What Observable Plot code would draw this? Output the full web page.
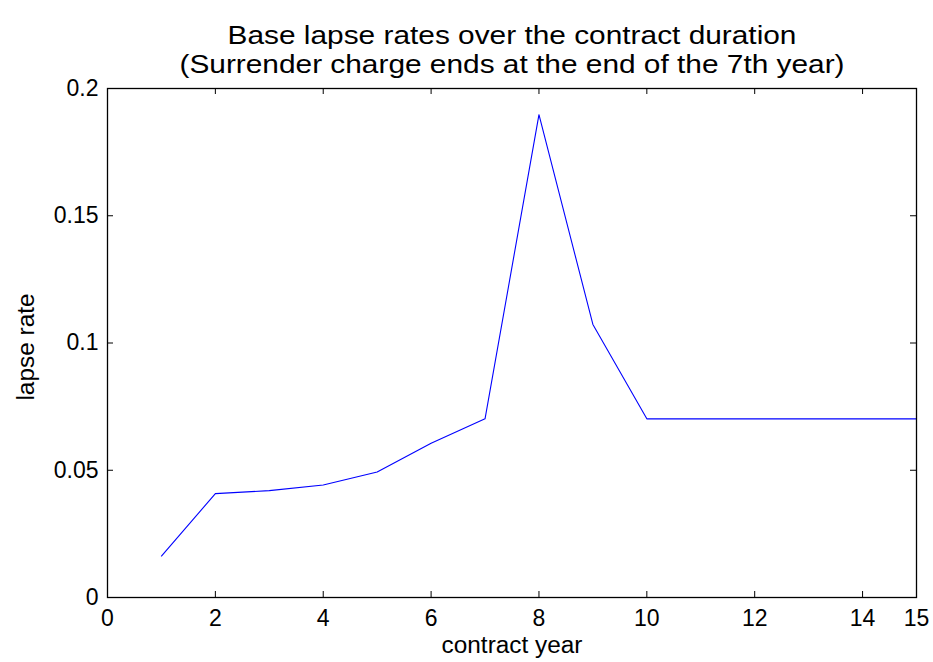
<!DOCTYPE html>
<html>
<head>
<meta charset="utf-8">
<script src="https://cdn.jsdelivr.net/npm/d3@7"></script>
<script src="https://cdn.jsdelivr.net/npm/@observablehq/plot@0.6"></script>
<style>
  html, body { margin: 0; padding: 0; background: #fff; }
  svg { font-family: "Liberation Sans", Arial, sans-serif; }
</style>
</head>
<body>
<div id="chart"></div>
<script>
const years = [1, 2, 3, 4, 5, 6, 7, 8, 9, 10, 11, 12, 13, 14, 15];
const lapseRates = [0.0163, 0.0408, 0.0420, 0.0442, 0.0493, 0.0606, 0.0702, 0.1897, 0.1073, 0.0702, 0.0702, 0.0702, 0.0702, 0.0702, 0.0702];
const xTicks = [0, 2, 4, 6, 8, 10, 12, 14, 15];
const yTicks = [0, 0.05, 0.1, 0.15, 0.2];
const yTickLabels = ["0", "0.05", "0.1", "0.15", "0.2"];
const titleLines = ["Base lapse rates over the contract duration", "(Surrender charge ends at the end of the 7th year)"];
const xLabel = "contract year";
const yLabel = "lapse rate";

const data = years.map((x, i) => ({x, y: lapseRates[i]}));

const W = 933, H = 662;
const mT = 88, mB = 65, mL = 107, mR = 17;
const plotH = H - mT - mB;
const plotW = W - mL - mR;
const tickLen = 6;
const fontSize = 23;
const titleSize = 25.5;
const titleStretch = 1.17;   // reference text is drawn slightly wider than Liberation Sans
const labelStretch = 1.06;

const centered = {lineAnchor: "middle", textAnchor: "middle", fill: "#000"};

const chart = Plot.plot({
  width: W,
  height: H,
  marginTop: mT,
  marginBottom: mB,
  marginLeft: mL,
  marginRight: mR,
  style: {fontFamily: "'Liberation Sans', Arial, sans-serif", fontSize: fontSize + "px", background: "#fff", color: "#000"},
  x: {domain: [0, 15], label: null},
  y: {domain: [0, 0.2], label: null},
  marks: [
    Plot.ruleX(xTicks, {x: d => d, insetTop: plotH - tickLen, stroke: "#000", strokeWidth: 1}),
    Plot.ruleX(xTicks, {x: d => d, insetBottom: plotH - tickLen, stroke: "#000", strokeWidth: 1}),
    Plot.ruleY(yTicks, {y: d => d, insetRight: plotW - tickLen, stroke: "#000", strokeWidth: 1}),
    Plot.ruleY(yTicks, {y: d => d, insetLeft: plotW - tickLen, stroke: "#000", strokeWidth: 1}),
    Plot.axisX(xTicks, {anchor: "bottom", tickSize: 0, tickPadding: 12, fontSize: fontSize, tickFormat: d => String(d)}),
    Plot.axisY(yTicks, {anchor: "left", tickSize: 0, tickPadding: 9, fontSize: fontSize, tickFormat: d => yTickLabels[yTicks.indexOf(d)]}),
    Plot.line(data, {x: "x", y: "y", stroke: "#0000ff", strokeWidth: 1.1}),
    Plot.frame({stroke: "#000", strokeWidth: 1.3}),
    Plot.text([xLabel], {...centered, frameAnchor: "bottom", dy: 48, text: d => d, fontSize: fontSize, className: "xlabel"}),
    Plot.text([yLabel], {...centered, frameAnchor: "left", dx: -81, dy: 4, rotate: -90, text: d => d, fontSize: fontSize, className: "ylabel"}),
    Plot.text([titleLines[0]], {...centered, frameAnchor: "top", dy: -53, text: d => d, fontSize: titleSize, className: "title"}),
    Plot.text([titleLines[1]], {...centered, frameAnchor: "top", dy: -24, text: d => d, fontSize: titleSize, className: "title"})
  ]
});
document.getElementById("chart").appendChild(chart);

// widen the title and axis-label glyphs to the reference's proportions
function stretch(selector, factor) {
  chart.querySelectorAll(selector + " text").forEach(t => {
    const len = t.getComputedTextLength();
    t.setAttribute("textLength", (len * factor).toFixed(1));
    t.setAttribute("lengthAdjust", "spacingAndGlyphs");
  });
}
stretch(".title", titleStretch);
stretch(".xlabel", labelStretch);
stretch(".ylabel", labelStretch);
</script>
</body>
</html>
